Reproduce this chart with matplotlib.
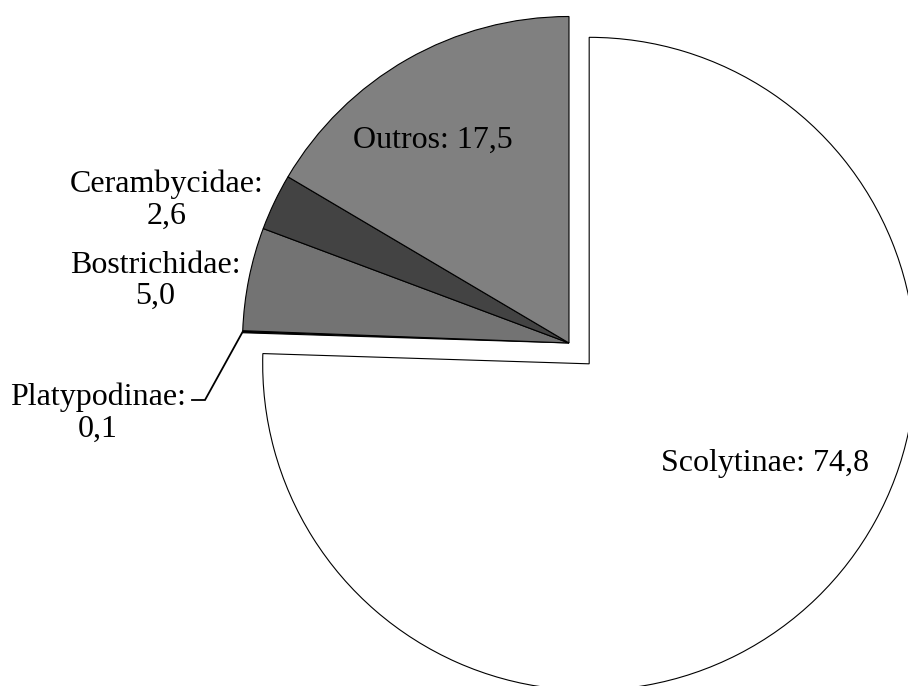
"""
Pie chart of beetle groups (share, %), Scolytinae slice pulled out
"""
import numpy as np
import matplotlib
matplotlib.use("Agg")
import matplotlib.pyplot as plt

plt.rcParams["font.family"] = ["Liberation Serif", "DejaVu Serif"]

# data, clockwise from 12 o'clock
groups = ["Scolytinae", "Platypodinae", "Bostrichidae", "Cerambycidae", "Outros"]
# wedge sizes as drawn in the picture
shares = [75.5, 0.1, 5.1, 2.8, 16.5]
# values printed in the labels
label_values = ["74,8", "0,1", "5,0", "2,6", "17,5"]
colors = ["#ffffff", "#000000", "#737373", "#434343", "#808080"]

W, H = 908, 686
CX, CY, R = 569, 343, 326.5  # pie centre / radius in pixel units (y up)

fig = plt.figure(figsize=(W / 100, H / 100), dpi=100)
ax = fig.add_axes([0, 0, 1, 1])

explode = [29, 0, 0, 0, 0]
wedges, _ = ax.pie(shares, colors=colors, explode=explode, startangle=90,
                   counterclock=False, radius=R, center=(CX, CY),
                   wedgeprops=dict(edgecolor="black", linewidth=0.8))

ax.set_xlim(0, W)
ax.set_ylim(0, H)
ax.set_aspect("equal")
ax.axis("off")

# label positions (pixel units, y up)
label_pos = {
    "Scolytinae": (765, 223, "{}: {}"),
    "Platypodinae": (98, 273, "{}:\n{}"),
    "Bostrichidae": (155, 405, "{}:\n{}"),
    "Cerambycidae": (167, 486, "{}:\n{}"),
    "Outros": (433, 546, "{}: {}"),
}
for g, v in zip(groups, label_values):
    x, y, fmt = label_pos[g]
    ax.text(x, y, fmt.format(g, v), ha="center", va="center",
            fontsize=23, linespacing=1.12)

# leader line for the tiny Platypodinae slice
w = wedges[1]
tm = np.deg2rad((w.theta1 + w.theta2) / 2)
x0 = w.center[0] + w.r * np.cos(tm)
y0 = w.center[1] + w.r * np.sin(tm)
ax.plot([x0, 205, 192], [y0, 286, 286], color="black", linewidth=1.3,
        solid_joinstyle="miter")

plt.savefig("out.png", dpi=100)
plt.close(fig)
